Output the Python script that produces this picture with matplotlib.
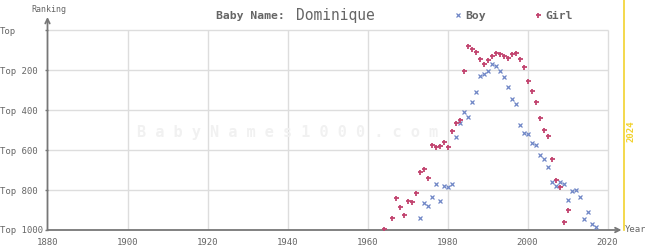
import matplotlib
matplotlib.use("Agg")
import matplotlib.pyplot as plt
from matplotlib.lines import Line2D

# ── data (rank per year) ──────────────────────────────────────────────────────
BOY_YEARS = list(range(1973, 2018))
BOY_RANKS = [942, 867, 882, 837, 772, 855, 782, 787, 770, 537,
             467, 412, 437, 362, 312, 232, 222, 207, 172, 182,
             207, 237, 287, 347, 372, 477, 517, 522, 567, 577,
             627, 647, 687, 762, 782, 762, 772, 852, 807, 802,
             837, 947, 912, 972, 987]

GIRL_YEARS = [1964] + list(range(1966, 2011))
GIRL_RANKS = [996, 942, 842, 887, 927, 857, 862, 817, 712, 697,
              742, 577, 587, 582, 562, 587, 507, 467, 452, 207,
              80, 97, 112, 147, 172, 152, 130, 117, 122, 132,
              142, 122, 117, 147, 187, 257, 307, 362, 442, 502,
              532, 647, 752, 787, 962, 902]

Y_TICKS = [0, 200, 400, 600, 800, 1000]
Y_LABELS = ["Top", "Top 200", "Top 400", "Top 600", "Top 800", "Top 1000"]
X_TICKS = [1880, 1900, 1920, 1940, 1960, 1980, 2000, 2020]

BOY_COLOR = "#6f86c6"
GIRL_COLOR = "#c2446f"
TEXT_COLOR = "#666666"
AXIS_COLOR = "#777777"
GRID_COLOR = "#dddddd"
MONO = "DejaVu Sans Mono"

W, H = 645, 250
fig = plt.figure(figsize=(W / 100, H / 100), dpi=100)
ax = fig.add_axes([47.5 / W, 20 / H, 580 / W, 213 / H])
ax.set_xlim(1880, 2025)
ax.set_ylim(1000, -65)
for s in ax.spines.values():
    s.set_visible(False)

# grid
ax.hlines(Y_TICKS[:-1], 1880, 2020, color=GRID_COLOR, lw=1, zorder=0)
ax.vlines(X_TICKS[1:], 0, 1000, color=GRID_COLOR, lw=1, zorder=0)

# watermark
ax.text(1940, 510, " ".join("BabyNames1000.com"),
        ha="center", va="center", fontsize=11, family=MONO,
        color="#f1f1f1", fontweight="bold", zorder=0)

# axes with arrows
ax.annotate("", xy=(0, 1.0), xytext=(0, 0), xycoords="axes fraction",
            arrowprops=dict(arrowstyle="->", color=AXIS_COLOR, lw=1.3,
                            shrinkA=0, shrinkB=0, mutation_scale=8))
ax.annotate("", xy=(2023.5, 1000), xytext=(1880, 1000), xycoords="data",
            arrowprops=dict(arrowstyle="->", color=AXIS_COLOR, lw=1.3,
                            shrinkA=0, shrinkB=0, mutation_scale=8),
            annotation_clip=False)

# current-year marker
ax.plot([2024, 2024], [-150, 1000], color="#f2d22e", lw=1.2, clip_on=False)
ax.text(2026, 505, "2024", rotation=90, ha="center", va="center",
        fontsize=6.5, family=MONO, color="#f2d22e", fontweight="bold")

# data
ax.plot(BOY_YEARS, BOY_RANKS, "x", color=BOY_COLOR, ms=2.6, mew=0.9, zorder=3)
ax.plot(GIRL_YEARS, GIRL_RANKS, "+", color=GIRL_COLOR, ms=3.6, mew=1.3, zorder=3)

# ticks
ax.set_xticks(X_TICKS)
ax.set_xticklabels([str(x) for x in X_TICKS])
ax.set_yticks(Y_TICKS)
ax.set_yticklabels(Y_LABELS)
ax.tick_params(axis="x", length=0, pad=6, labelsize=6.5, labelcolor=TEXT_COLOR)
ax.tick_params(axis="y", length=2.5, width=1, color=AXIS_COLOR, pad=32,
               labelsize=6.5, labelcolor=TEXT_COLOR)
for lbl in ax.get_yticklabels():
    lbl.set_horizontalalignment("left")
for lbl in ax.get_xticklabels() + ax.get_yticklabels():
    lbl.set_family(MONO)

# labels
fig.text(49 / W, 1 - 9 / H, "Ranking", ha="center", va="center",
         fontsize=6, family=MONO, color=TEXT_COLOR)
fig.text(625 / W, 1 - 229 / H, "Year", ha="left", va="center",
         fontsize=6.5, family=MONO, color=TEXT_COLOR)

# title
fig.text(216 / W, 1 - 16 / H, "Baby Name:", ha="left", va="center",
         fontsize=8.2, family=MONO, fontweight="bold", color=TEXT_COLOR)
fig.text(296 / W, 1 - 15.5 / H, "Dominique", ha="left", va="center",
         fontsize=10.5, family=MONO, color=TEXT_COLOR)

# legend
fig.add_artist(Line2D([458 / W], [1 - 15 / H], marker="x", color=BOY_COLOR,
                      ms=2.6, mew=0.9, transform=fig.transFigure))
fig.text(465 / W, 1 - 16 / H, "Boy", ha="left", va="center",
         fontsize=8.2, family=MONO, fontweight="bold", color=TEXT_COLOR)
fig.add_artist(Line2D([538 / W], [1 - 15 / H], marker="+", color=GIRL_COLOR,
                      ms=3.6, mew=1.3, transform=fig.transFigure))
fig.text(545 / W, 1 - 16 / H, "Girl", ha="left", va="center",
         fontsize=8.2, family=MONO, fontweight="bold", color=TEXT_COLOR)

fig.savefig("out.png", dpi=100)
